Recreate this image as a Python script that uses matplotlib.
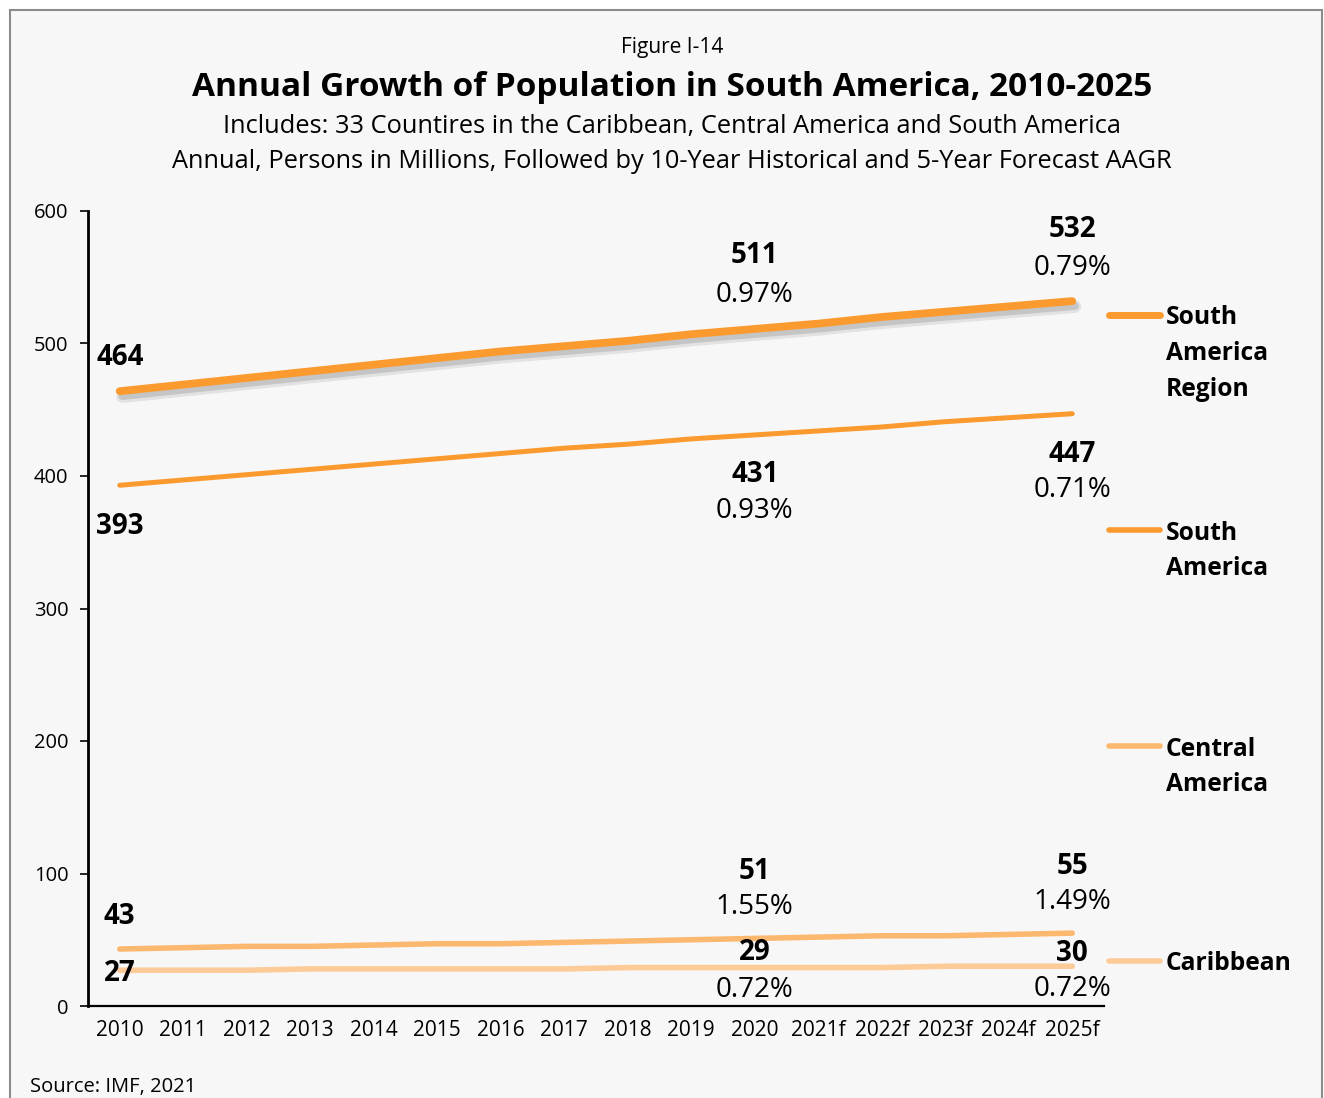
import matplotlib.pyplot as plt
import matplotlib.patheffects as pe
from matplotlib.lines import Line2D
from matplotlib.patches import Rectangle
import numpy as np

plt.rcParams['font.family'] = ['Open Sans', 'DejaVu Sans']

years = ['2010', '2011', '2012', '2013', '2014', '2015', '2016', '2017',
         '2018', '2019', '2020', '2021f', '2022f', '2023f', '2024f', '2025f']

# population, millions
region = [464, 469, 474, 479, 484, 489, 494, 498, 502, 507, 511, 515, 520, 524, 528, 532]
south_am = [393, 397, 401, 405, 409, 413, 417, 421, 424, 428, 431, 434, 437, 441, 444, 447]
central_am = [43, 44, 45, 45, 46, 47, 47, 48, 49, 50, 51, 52, 53, 53, 54, 55]
caribbean = [27, 27, 27, 28, 28, 28, 28, 28, 29, 29, 29, 29, 29, 30, 30, 30]

# AAGR: 10-year historical (to 2020) and 5-year forecast (to 2025)
aagr_region = ['0.97%', '0.79%']
aagr_south = ['0.93%', '0.71%']
aagr_central = ['1.55%', '1.49%']
aagr_carib = ['0.72%', '0.72%']

c_region = '#fb9a2f'
c_south = '#fb9a2f'
c_central = '#fdb870'
c_carib = '#fdcb98'

W, H = 1324, 1098
fig = plt.figure(figsize=(W / 100, H / 100), dpi=100, facecolor='white')

def fx(px):
    return px / W

def fy(py):
    return 1 - py / H

# framed panel
fig.add_artist(Rectangle((fx(10), fy(1200)), fx(1322) - fx(10), fy(10) - fy(1200),
                         transform=fig.transFigure, facecolor='#f7f7f7',
                         edgecolor='#8c8c8c', lw=1.5, zorder=0))

ax = fig.add_axes([fx(88), fy(1006), fx(1104) - fx(88), fy(211) - fy(1006)])
ax.set_facecolor('none')
x = np.arange(len(years))

ax.plot(x, caribbean, color=c_carib, lw=4.0, solid_capstyle='round', zorder=2)
ax.plot(x, central_am, color=c_central, lw=4.0, solid_capstyle='round', zorder=2)
ax.plot(x, south_am, color=c_south, lw=3.6, solid_capstyle='round', zorder=3)
shadow = [pe.SimpleLineShadow(offset=(2, -4), shadow_color='#707070', alpha=0.15, linewidth=9),
          pe.SimpleLineShadow(offset=(2, -3.5), shadow_color='#707070', alpha=0.25),
          pe.Normal()]
ax.plot(x, region, color=c_region, lw=5.6, solid_capstyle='round', zorder=4, path_effects=shadow)

ax.set_xlim(-0.5, len(years) - 0.5)
ax.set_ylim(0, 600)
ax.set_yticks(range(0, 601, 100))
ax.set_xticks(x)
ax.set_xticklabels(years)
ax.tick_params(axis='y', length=6, width=1.2, labelsize=14.5, pad=8)
ax.tick_params(axis='x', length=0, labelsize=15, pad=10)
for s in ['top', 'right']:
    ax.spines[s].set_visible(False)
ax.spines['left'].set_linewidth(2)
ax.spines['bottom'].set_linewidth(1.6)

def put(i, series, text, dy, bold=True):
    ax.annotate(text, (x[i], series[i]), xytext=(0, dy - 2), textcoords='offset pixels',
                ha='center', va='center', fontsize=20,
                fontweight='bold' if bold else 'normal', zorder=6)

# data labels
put(0, region, str(region[0]), 36)
put(10, region, str(region[10]), 75)
put(10, region, aagr_region[0], 36, bold=False)
put(15, region, str(region[15]), 74)
put(15, region, aagr_region[1], 35, bold=False)

put(0, south_am, str(south_am[0]), -39)
put(10, south_am, str(south_am[10]), -38)
put(10, south_am, aagr_south[0], -74, bold=False)
put(15, south_am, str(south_am[15]), -39)
put(15, south_am, aagr_south[1], -74, bold=False)

put(0, central_am, str(central_am[0]), 35)
put(10, central_am, str(central_am[10]), 69)
put(10, central_am, aagr_central[0], 33, bold=False)
put(15, central_am, str(central_am[15]), 69)
put(15, central_am, aagr_central[1], 33, bold=False)

put(0, caribbean, str(caribbean[0]), -1)
put(10, caribbean, str(caribbean[10]), 17)
put(10, caribbean, aagr_carib[0], -20, bold=False)
put(15, caribbean, str(caribbean[15]), 15)
put(15, caribbean, aagr_carib[1], -21, bold=False)

# legend on the right
legend_items = [
    (['South', 'America', 'Region'], c_region, 5.0, 315),
    (['South', 'America'], c_south, 4.0, 530),
    (['Central', 'America'], c_central, 4.0, 746),
    (['Caribbean'], c_carib, 4.0, 961),
]
for words, col, lw, ly in legend_items:
    fig.add_artist(Line2D([fx(1109), fx(1160)], [fy(ly), fy(ly)], color=col, lw=lw,
                          solid_capstyle='round', transform=fig.transFigure))
    for k, w in enumerate(words):
        fig.text(fx(1166), fy(ly + 3 + 35.5 * k), w, ha='left', va='center',
                 fontsize=17.7, fontweight='bold')

# titles
cx = fx(672)
fig.text(cx, fy(48), 'Figure I-14', ha='center', va='center', fontsize=15)
fig.text(cx, fy(87), 'Annual Growth of Population in South America, 2010-2025',
         ha='center', va='center', fontsize=24, fontweight='bold')
fig.text(cx, fy(126), 'Includes: 33 Countires in the Caribbean, Central America and South America',
         ha='center', va='center', fontsize=18.3)
fig.text(cx, fy(162), 'Annual, Persons in Millions, Followed by 10-Year Historical and 5-Year Forecast AAGR',
         ha='center', va='center', fontsize=18.3)
fig.text(fx(30), fy(1087), 'Source: IMF, 2021', ha='left', va='center', fontsize=14.5)

fig.savefig('out.png', dpi=100, facecolor='white')
